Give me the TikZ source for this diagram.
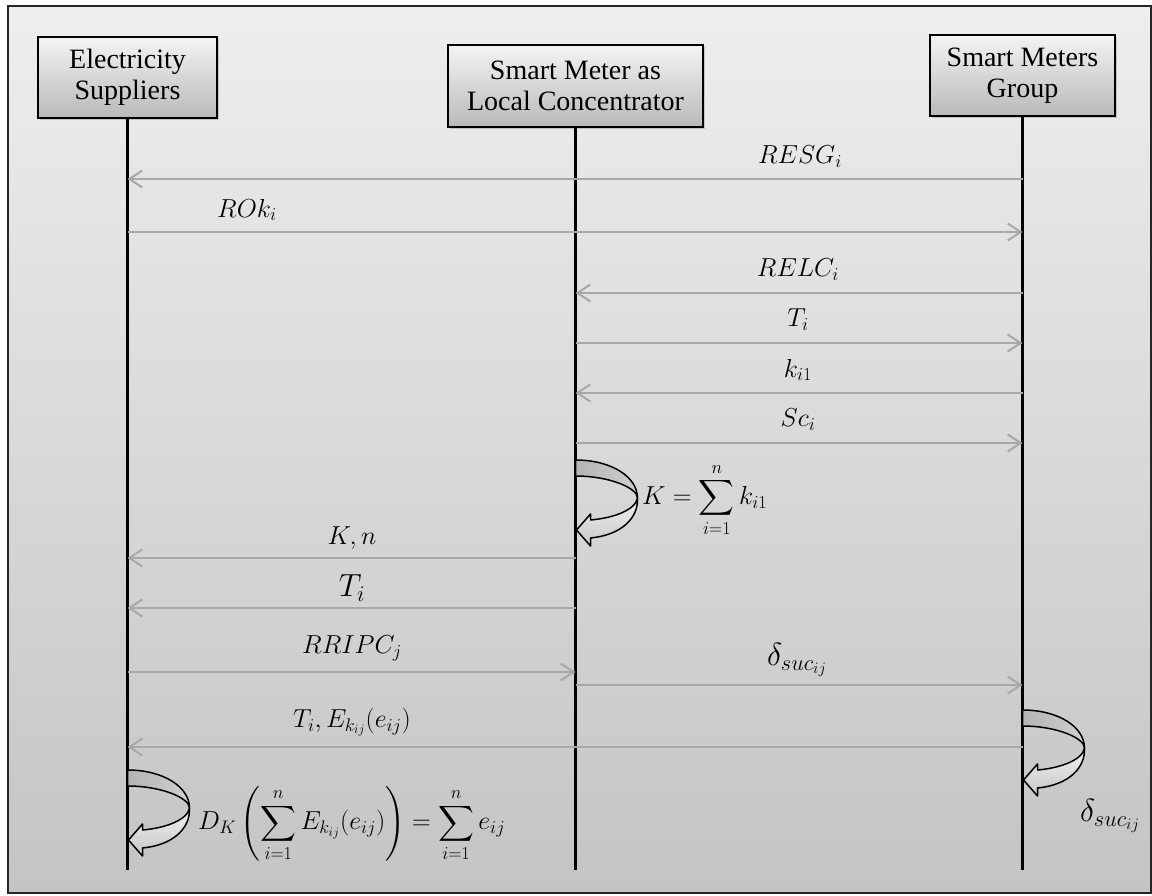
\RequirePackage{fix-cm}
\documentclass[tikz,border=0pt]{standalone}
\usepackage{amsmath}
\usepackage{fontspec}
\setmainfont{Liberation Serif}
\usetikzlibrary{arrows.meta,shadows}

\definecolor{bgtop}{HTML}{EEEEEE}
\definecolor{bgbot}{HTML}{C4C4C4}
\definecolor{msggray}{HTML}{A8A8A8}
\definecolor{hdrtop}{HTML}{F4F4F4}
\definecolor{hdrbot}{HTML}{B9B9B9}
\definecolor{backtop}{HTML}{B4B4B4}
\definecolor{backbot}{HTML}{CFCFCF}
\definecolor{looptop}{HTML}{F2F2F2}
\definecolor{loopbot}{HTML}{C6C6C6}

\tikzset{
  hdr/.style={draw=black, line width=1.5pt, top color=hdrtop, bottom color=hdrbot,
    align=center, inner sep=0pt, font=\fontsize{28}{31}\selectfont,
    drop shadow={opacity=0.35, shadow xshift=2pt, shadow yshift=-2pt}},
  life/.style={draw=black, line width=2.4pt},
  msg/.style={draw=msggray, line width=2pt,
    -{Straight Barb[length=13pt, width=17pt, line width=2pt]}},
  lbl/.style={inner sep=0pt, font=\fontsize{26}{30}\selectfont},
  biglbl/.style={inner sep=0pt, font=\fontsize{32}{36}\selectfont},
  selfloop/.pic={
    \shadedraw[left color=backtop, right color=backbot, draw=black, line width=1.5pt, line join=round]
      (0,0) .. controls (36,0) and (62,17) .. (62,38)
            .. controls (62,28) and (34,16) .. (0,16) -- cycle;
    \shadedraw[top color=looptop, bottom color=loopbot, draw=black, line width=1.5pt, line join=round]
      (62,38) .. controls (60,50) and (38,58) .. (15,60) -- (15,54) -- (1,70) -- (15,86) -- (15,78)
      .. controls (46,75) and (63,58) .. (62,38) -- cycle;
  }
}

\begin{document}
\begin{tikzpicture}[x=1pt, y=-1pt]
\useasboundingbox (0,0) rectangle (1152,896);
\shade[top color=bgtop, bottom color=bgbot] (8,6) rectangle (1151,893);
\draw[line width=1.5pt, draw=black!85] (8,6) rectangle (1151,893);

% headers
\node[hdr, minimum width=179pt, minimum height=81pt] (es) at (127.5,77.5) {Electricity\\Suppliers};
\node[hdr, minimum width=255pt, minimum height=82pt] (lc) at (575.5,86) {Smart Meter as\\Local Concentrator};
\node[hdr, minimum width=185pt, minimum height=81pt] (sm) at (1022.5,75.5) {Smart Meters\\Group};

% lifeline ends
\coordinate (esEnd) at (127.5,870);
\coordinate (lcEnd) at (575.5,870);
\coordinate (smEnd) at (1022.5,870);
\draw[life] (es.south) -- (esEnd);
\draw[life] (lc.south) -- (lcEnd);
\draw[life] (sm.south) -- (smEnd);

% message anchor points
\coordinate (e1) at (127.5,179);  \coordinate (s1) at (1022.5,179);
\coordinate (e2) at (127.5,232);  \coordinate (s2) at (1022.5,232);
\coordinate (c3) at (575.5,293);  \coordinate (s3) at (1022.5,293);
\coordinate (c4) at (575.5,343);  \coordinate (s4) at (1022.5,343);
\coordinate (c5) at (575.5,393);  \coordinate (s5) at (1022.5,393);
\coordinate (c6) at (575.5,443);  \coordinate (s6) at (1022.5,443);
\coordinate (e7) at (127.5,558);  \coordinate (c7) at (575.5,558);
\coordinate (e8) at (127.5,608);  \coordinate (c8) at (575.5,608);
\coordinate (e9) at (127.5,672);  \coordinate (c9) at (575.5,672);
\coordinate (c10) at (575.5,685); \coordinate (s10) at (1022.5,685);
\coordinate (e11) at (127.5,747); \coordinate (s11) at (1022.5,747);

\draw[msg] (s1) -- (e1);
\draw[msg] (e2) -- (s2);
\draw[msg] (s3) -- (c3);
\draw[msg] (c4) -- (s4);
\draw[msg] (s5) -- (c5);
\draw[msg] (c6) -- (s6);
\draw[msg] (c7) -- (e7);
\draw[msg] (c8) -- (e8);
\draw[msg] (e9) -- (c9);
\draw[msg] (c10) -- (s10);
\draw[msg] (s11) -- (e11);

% labels
\node[lbl] (l1) at (800,157) {$RESG_i$};
\node[lbl] (l2) at (247,210) {$ROk_i$};
\node[lbl] (l3) at (798,270) {$RELC_i$};
\node[lbl] (l4) at (798,320) {$T_i$};
\node[lbl] (l5) at (798,370) {$k_{i1}$};
\node[lbl] (l6) at (798,420) {$Sc_i$};
\node[lbl] (l7) at (352,538) {$K,n$};
\node[biglbl] (l8) at (352,588) {$T_i$};
\node[lbl] (l9) at (352,648) {$RRIPC_j$};
\node[biglbl] (l10) at (797,660) {$\delta_{suc_{ij}}$};
\node[lbl] (l11) at (352,722) {$T_i,E_{k_{ij}}(e_{ij})$};

% self loops
\pic at (575.5,460) {selfloop};
\pic at (1022.5,710) {selfloop};
\pic at (127.5,770) {selfloop};

\node[lbl, anchor=west] (kl) at (642,500) {$K=\displaystyle\sum_{i=1}^{n}k_{i1}$};
\node[biglbl] (dl) at (1110,816) {$\delta_{suc_{ij}}$};
\node[lbl, anchor=west] (dk) at (198,824)
  {$D_K\left(\displaystyle\sum_{i=1}^{n}E_{k_{ij}}(e_{ij})\right)=\displaystyle\sum_{i=1}^{n}e_{ij}$};
\end{tikzpicture}
\end{document}
